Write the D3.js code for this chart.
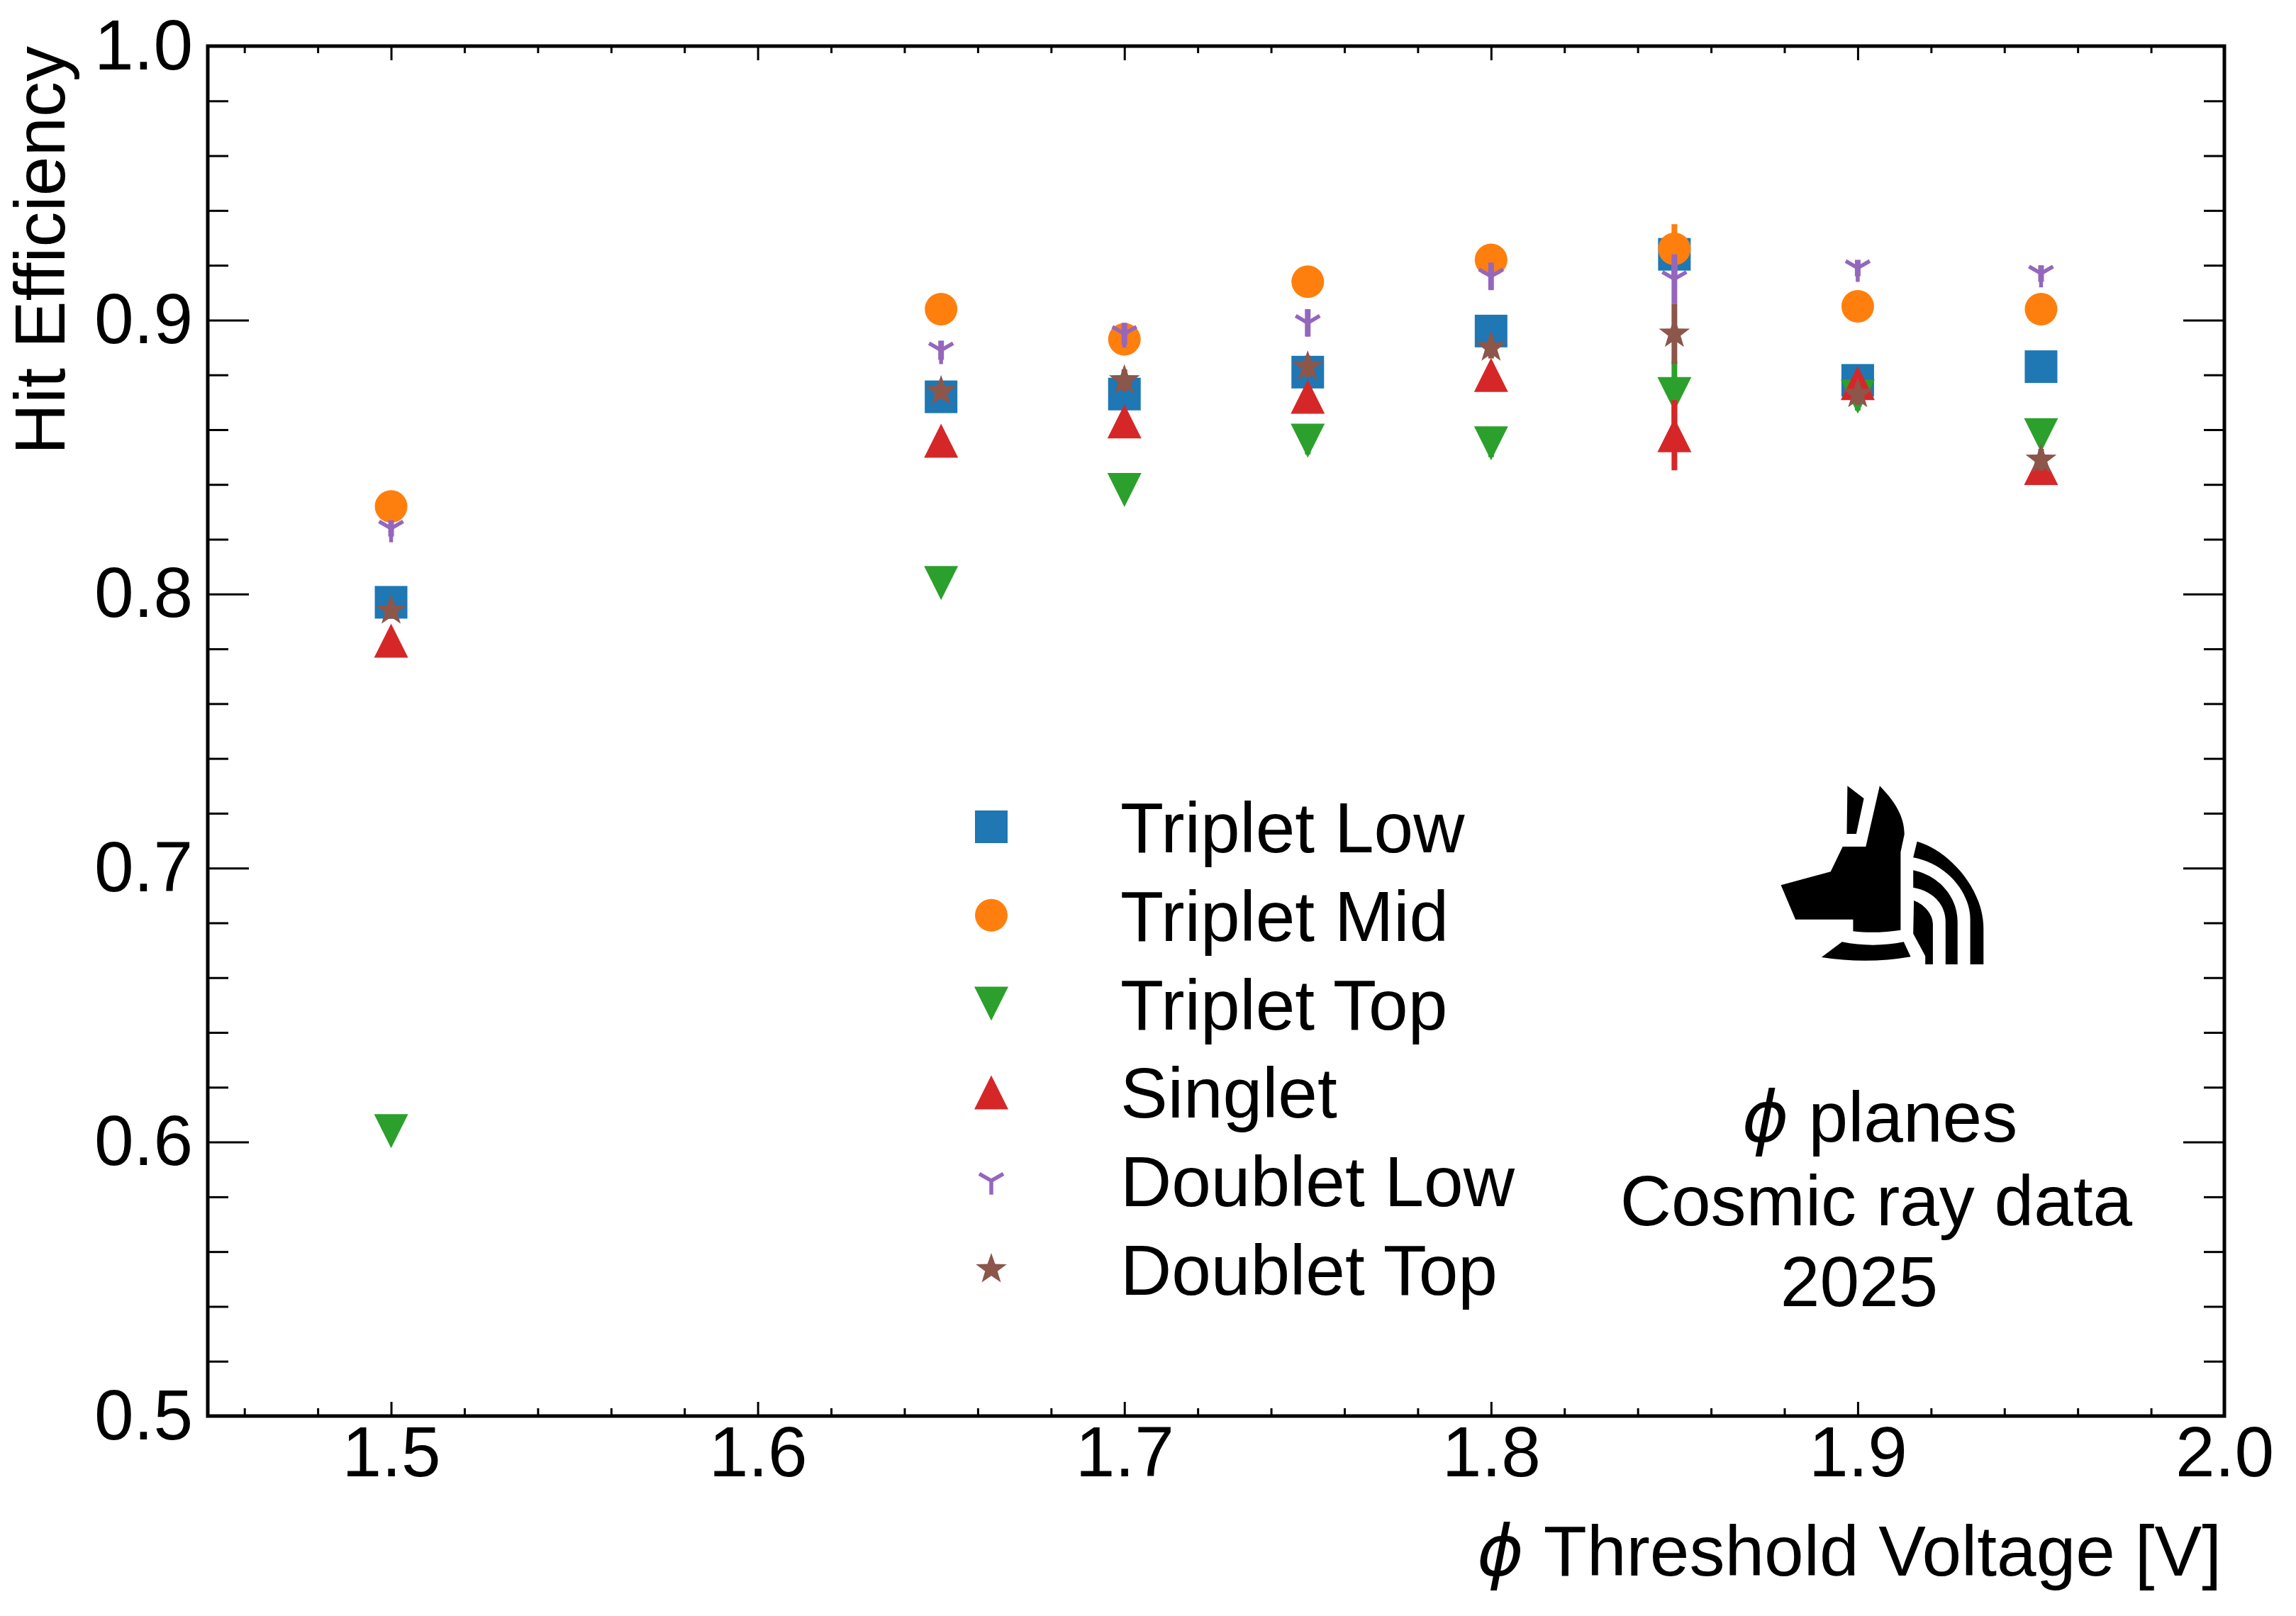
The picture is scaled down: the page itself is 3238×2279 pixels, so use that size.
<!DOCTYPE html>
<html>
<head>
<meta charset="utf-8">
<script src="https://cdn.jsdelivr.net/npm/d3@7"></script>
<style>
  html, body { margin: 0; padding: 0; background: #fff; }
  svg { display: block; }
  text { font-family: "Liberation Sans", Arial, Helvetica, sans-serif; fill: #000; }
</style>
</head>
<body>
<svg id="chart" width="3238" height="2279"></svg>
<script>
// ---------------- DATA ----------------
const voltages = [1.5, 1.65, 1.7, 1.75, 1.8, 1.85, 1.9, 1.95];

const seriesNames = ["Triplet Low", "Triplet Mid", "Triplet Top", "Singlet", "Doublet Low", "Doublet Top"];

const tripletLow  = [0.797, 0.872, 0.873, 0.881, 0.896, 0.924, 0.878, 0.883];
const tripletMid  = [0.832, 0.904, 0.893, 0.914, 0.922, 0.926, 0.905, 0.904];
const tripletTop  = [0.604, 0.804, 0.838, 0.856, 0.855, 0.873, 0.872, 0.858];
const singlet     = [0.783, 0.856, 0.863, 0.872, 0.880, 0.858, 0.877, 0.846];
const doubletLow  = [0.824, 0.889, 0.895, 0.899, 0.916, 0.915, 0.919, 0.917];
const doubletTop  = [0.794, 0.874, 0.878, 0.883, 0.890, 0.895, 0.873, 0.849];

const tripletLowErr = [0.003, 0.003, 0.003, 0.003, 0.003, 0.008, 0.003, 0.003];
const tripletMidErr = [0.003, 0.003, 0.003, 0.003, 0.003, 0.009, 0.003, 0.003];
const tripletTopErr = [0.003, 0.003, 0.004, 0.005, 0.005, 0.012, 0.005, 0.004];
const singletErr    = [0.003, 0.003, 0.004, 0.004, 0.004, 0.0128, 0.004, 0.004];
const doubletLowErr = [0.003, 0.0035, 0.004, 0.005, 0.005, 0.009, 0.003, 0.003];
const doubletTopErr = [0.003, 0.003, 0.004, 0.004, 0.004, 0.011, 0.004, 0.004];

const seriesValues = [tripletLow, tripletMid, tripletTop, singlet, doubletLow, doubletTop];
const seriesErrors = [tripletLowErr, tripletMidErr, tripletTopErr, singletErr, doubletLowErr, doubletTopErr];
const seriesColors = ["#1f77b4", "#ff7f0e", "#2ca02c", "#d62728", "#9467bd", "#8c564b"];
const seriesMarkers = ["square", "circle", "triDown", "triUp", "tri1", "star"];

const yMajorTicks = [0.5, 0.6, 0.7, 0.8, 0.9, 1.0];
const xMajorTicks = [1.5, 1.6, 1.7, 1.8, 1.9, 2.0];

const infoLines = ["planes", "Cosmic ray data", "2025"];

// ---------------- LAYOUT ----------------
const svg = d3.select("#chart");
const L = 293, R = 3137, T = 65, B = 1997;
const x = d3.scaleLinear().domain([1.45, 2.0]).range([L, R]);
const y = d3.scaleLinear().domain([0.5, 1.0]).range([B, T]);
const FS = 100;

// minor tick positions
const xMinor = d3.range(1.46, 2.0001, 0.02).map(v => +v.toFixed(2)).filter(v => Math.abs(v * 10 - Math.round(v * 10)) > 1e-6);
const yMinor = d3.range(0.52, 1.0001, 0.02).map(v => +v.toFixed(2)).filter(v => Math.abs(v * 10 - Math.round(v * 10)) > 1e-6);

function styleAxis(g) {
  g.select(".domain").remove();
  g.selectAll(".tick line").attr("stroke", "#000").attr("stroke-width", 3);
  g.selectAll(".tick text").style("font-size", FS + "px").attr("font-family", "Liberation Sans, Arial, sans-serif").attr("fill", "#000");
}

// bottom axis
svg.append("g").attr("transform", `translate(0,${B})`)
  .call(d3.axisBottom(x).tickValues(xMajorTicks).tickFormat(d3.format(".1f")).tickSizeInner(-20).tickSizeOuter(0).tickPadding(14))
  .call(styleAxis);
svg.append("g").attr("transform", `translate(0,${B})`)
  .call(d3.axisBottom(x).tickValues(xMinor).tickFormat("").tickSizeInner(-11).tickSizeOuter(0))
  .call(styleAxis);
// top axis
svg.append("g").attr("transform", `translate(0,${T})`)
  .call(d3.axisTop(x).tickValues(xMajorTicks).tickFormat("").tickSizeInner(-20).tickSizeOuter(0))
  .call(styleAxis);
svg.append("g").attr("transform", `translate(0,${T})`)
  .call(d3.axisTop(x).tickValues(xMinor).tickFormat("").tickSizeInner(-10).tickSizeOuter(0))
  .call(styleAxis);
// left axis
svg.append("g").attr("transform", `translate(${L},0)`)
  .call(d3.axisLeft(y).tickValues(yMajorTicks).tickFormat(d3.format(".1f")).tickSizeInner(-58).tickSizeOuter(0).tickPadding(21))
  .call(styleAxis);
svg.append("g").attr("transform", `translate(${L},0)`)
  .call(d3.axisLeft(y).tickValues(yMinor).tickFormat("").tickSizeInner(-29).tickSizeOuter(0))
  .call(styleAxis);
// right axis
svg.append("g").attr("transform", `translate(${R},0)`)
  .call(d3.axisRight(y).tickValues(yMajorTicks).tickFormat("").tickSizeInner(-58).tickSizeOuter(0))
  .call(styleAxis);
svg.append("g").attr("transform", `translate(${R},0)`)
  .call(d3.axisRight(y).tickValues(yMinor).tickFormat("").tickSizeInner(-29).tickSizeOuter(0))
  .call(styleAxis);

// frame
svg.append("rect").attr("x", L).attr("y", T).attr("width", R - L).attr("height", B - T)
  .attr("fill", "none").attr("stroke", "#000").attr("stroke-width", 5);

// ---------------- MARKERS ----------------
function starPath(r) {
  const ri = r * 0.40;
  let pts = [];
  for (let i = 0; i < 10; i++) {
    const ang = -Math.PI / 2 + i * Math.PI / 5;
    const rr = i % 2 === 0 ? r : ri;
    pts.push([rr * Math.cos(ang), rr * Math.sin(ang)]);
  }
  return "M" + pts.map(p => p[0].toFixed(2) + "," + p[1].toFixed(2)).join("L") + "Z";
}
function drawMarker(g, type, color, scale) {
  const s = scale || 1;
  if (type === "square") {
    const h = 23 * s;
    g.append("rect").attr("x", -h).attr("y", -h).attr("width", 2 * h).attr("height", 2 * h).attr("fill", color);
  } else if (type === "circle") {
    g.append("circle").attr("r", 23 * s).attr("fill", color);
  } else if (type === "triUp") {
    const h = 24 * s;
    g.append("path").attr("d", `M0,${-h}L${h},${h}L${-h},${h}Z`).attr("fill", color);
  } else if (type === "triDown") {
    const h = 24 * s;
    g.append("path").attr("d", `M0,${h}L${h},${-h}L${-h},${-h}Z`).attr("fill", color);
  } else if (type === "tri1") {
    const r = 19.6 * s;
    g.append("path")
      .attr("d", `M0,0L0,${r}M0,0L${-0.866 * r},${-0.5 * r}M0,0L${0.866 * r},${-0.5 * r}`)
      .attr("fill", "none").attr("stroke", color).attr("stroke-width", 5.5);
  } else if (type === "star") {
    g.append("path").attr("d", starPath(23 * s)).attr("fill", color);
  }
}

const plot = svg.append("g");
seriesNames.forEach((name, si) => {
  const vals = seriesValues[si], errs = seriesErrors[si], col = seriesColors[si];
  const data = voltages.map((v, i) => ({ v, e: vals[i], err: errs[i] }));
  const sg = plot.append("g").attr("class", "series");
  sg.selectAll("line.err").data(data).enter().append("line")
    .attr("x1", d => x(d.v)).attr("x2", d => x(d.v))
    .attr("y1", d => y(d.e - d.err)).attr("y2", d => y(d.e + d.err))
    .attr("stroke", col).attr("stroke-width", 8);
  sg.selectAll("g.pt").data(data).enter().append("g")
    .attr("transform", d => `translate(${x(d.v)},${y(d.e)})`)
    .each(function () { drawMarker(d3.select(this), seriesMarkers[si], col); });
});

// ---------------- LEGEND ----------------
const legMarkerX = 1398, legTextX = 1580, legY0 = 1166, legDy = 124.8;
seriesNames.forEach((name, si) => {
  const cy = legY0 + si * legDy;
  const g = svg.append("g").attr("transform", `translate(${legMarkerX},${cy})`);
  drawMarker(g, seriesMarkers[si], seriesColors[si]);
  svg.append("text").attr("x", legTextX).attr("y", cy + 36)
    .style("font-size", FS + "px").text(name);
});

// ---------------- AXIS LABELS ----------------
svg.append("text")
  .attr("transform", `translate(91,${T}) rotate(-90)`)
  .attr("text-anchor", "end")
  .style("font-size", FS + "px")
  .text("Hit Efficiency");

const xl = svg.append("text").attr("x", R - 4).attr("y", 2222).attr("text-anchor", "end").style("font-size", FS + "px");
xl.append("tspan").attr("font-family", "DejaVu Sans").attr("font-style", "italic").text("ϕ");
xl.append("tspan").text(" Threshold Voltage [V]");

// ---------------- INFO TEXT ----------------
const t1 = svg.append("text").attr("x", 2651).attr("y", 1610).attr("text-anchor", "middle").style("font-size", FS + "px");
t1.append("tspan").attr("font-family", "DejaVu Sans").attr("font-style", "italic").text("ϕ");
t1.append("tspan").text(" " + infoLines[0]);
svg.append("text").attr("x", 2646).attr("y", 1728).attr("text-anchor", "middle").style("font-size", FS + "px").text(infoLines[1]);
svg.append("text").attr("x", 2622).attr("y", 1842).attr("text-anchor", "middle").style("font-size", FS + "px").text(infoLines[2]);

// ---------------- LOGO ----------------
const logo = svg.append("g").attr("fill", "#000");
[
  "M2605.4,1108.3L2628.6,1126L2617.9,1176L2604.5,1176Z",
  "M2650.9,1108.3C2670,1128 2686,1150 2685.7,1176.7L2680.4,1201.7L2680.4,1311.7C2660,1315 2635,1316 2613.4,1313.3L2613.4,1296.7L2532.1,1296.7L2511.6,1248.3L2581.7,1229.3L2598.7,1194L2631.3,1194Z",
  "M2597.8,1328.3L2568.8,1350Q2632,1360 2694.6,1349.3L2684.8,1328.3Q2641,1337 2597.8,1328.3Z",
  "M2703.6,1186.7C2745,1198 2797.3,1250 2797.3,1310L2797.3,1360L2778.6,1360L2778.6,1296.7C2778.6,1258 2745,1218 2698.2,1209.3Z",
  "M2698.2,1227.3C2735,1235 2760.7,1265 2760.7,1300L2760.7,1360L2743.8,1360L2743.8,1300C2743.8,1275 2725,1256 2698.2,1251.7Z",
  "M2699.1,1270C2715,1276 2725.9,1290 2725.9,1303.3L2725.9,1360L2715.2,1360L2715.2,1348.3L2698.2,1316.7Z"
].forEach(d => logo.append("path").attr("d", d));
</script>
</body>
</html>
